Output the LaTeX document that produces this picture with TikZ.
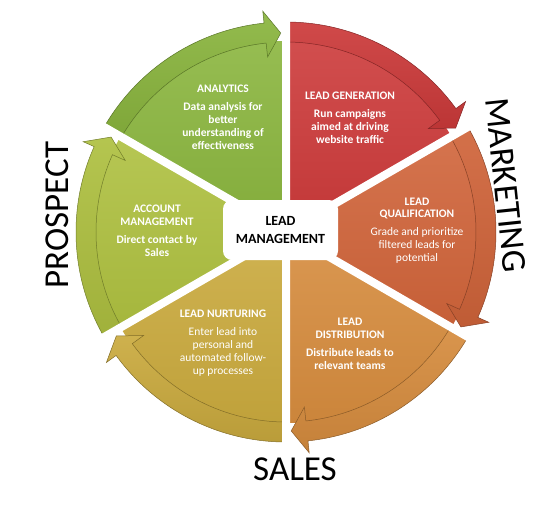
\documentclass[tikz,border=0pt]{standalone}
\usepackage{fontspec}
\setmainfont{Carlito}
\definecolor{genred}{HTML}{CC3A3A}
\definecolor{qualorange}{HTML}{D0643A}
\definecolor{distorange}{HTML}{D68C3E}
\definecolor{nurtyellow}{HTML}{CAAA3E}
\definecolor{acctgreen}{HTML}{AEC040}
\definecolor{analgreen}{HTML}{8AB53E}
\begin{document}
\begin{tikzpicture}[x=1pt, y=1pt,
        seg/.style={top color=#1!90!white, bottom color=#1!95!black},
        band/.style={top color=#1!92!white, bottom color=#1!92!black, draw=#1!65!black, line width=0.5pt},
        gap/.style={white, line width=8pt},
        txt/.style={white, align=center, inner sep=0pt, font=\fontsize{11.5}{12.9}\selectfont\bfseries},
        big/.style={inner sep=0pt, font=\fontsize{35}{40}\selectfont}
    ]
        \useasboundingbox (-286,-275) rectangle (273,232);

        % Wedges
        \path[seg=genred] (0,0) -- (90:191pt) arc[start angle=90, end angle=30, radius=191pt] -- cycle;
        \path[seg=qualorange] (0,0) -- (30:191pt) arc[start angle=30, end angle=-30, radius=191pt] -- cycle;
        \path[seg=distorange] (0,0) -- (-30:191pt) arc[start angle=-30, end angle=-90, radius=191pt] -- cycle;
        \path[seg=nurtyellow] (0,0) -- (-90:191pt) arc[start angle=-90, end angle=-150, radius=191pt] -- cycle;
        \path[seg=acctgreen] (0,0) -- (210:191pt) arc[start angle=210, end angle=150, radius=191pt] -- cycle;
        \path[seg=analgreen] (0,0) -- (150:191pt) arc[start angle=150, end angle=90, radius=191pt] -- cycle;

        % Arrow bands
        \path[band=genred] (90:210pt) arc[start angle=90, end angle=36, radius=210pt] -- (36:222pt) -- (31.5:199pt) -- (36:176pt) -- (36:190pt) arc[start angle=36, end angle=90, radius=190pt] -- cycle;
        \path[band=qualorange] (30:210pt) arc[start angle=30, end angle=-24, radius=210pt] -- (-24:222pt) -- (-28.5:199pt) -- (-24:176pt) -- (-24:190pt) arc[start angle=-24, end angle=30, radius=190pt] -- cycle;
        \path[band=distorange] (-30:210pt) arc[start angle=-30, end angle=-84, radius=210pt] -- (-84:222pt) -- (-88.5:199pt) -- (-84:176pt) -- (-84:190pt) arc[start angle=-84, end angle=-30, radius=190pt] -- cycle;
        \path[band=nurtyellow] (-90:210pt) arc[start angle=-90, end angle=-144, radius=210pt] -- (-144:222pt) -- (-148.5:199pt) -- (-144:176pt) -- (-144:190pt) arc[start angle=-144, end angle=-90, radius=190pt] -- cycle;
        \path[band=acctgreen] (210:210pt) arc[start angle=210, end angle=156, radius=210pt] -- (156:222pt) -- (151.5:199pt) -- (156:176pt) -- (156:190pt) arc[start angle=156, end angle=210, radius=190pt] -- cycle;
        \path[band=analgreen] (150:210pt) arc[start angle=150, end angle=96, radius=210pt] -- (96:222pt) -- (91.5:199pt) -- (96:176pt) -- (96:190pt) arc[start angle=96, end angle=150, radius=190pt] -- cycle;

        % Gaps
        \draw[gap] (90:235pt) -- (-90:235pt) (30:235pt) -- (210:235pt) (150:235pt) -- (-30:235pt);

        % Centre
        \node[fill=white, rounded corners=9pt, minimum width=115pt, minimum height=60pt, align=center,
              font=\fontsize{14}{17.5}\selectfont\bfseries] (leadmgmt) at (-5.5,2) {LEAD\\MANAGEMENT};

        % Stages
        \node[txt] (generation) at (64,114) {LEAD GENERATION\\[5pt]Run campaigns\\aimed at driving\\website traffic};
        \node[txt] (qualification) at (131,1.5) {LEAD\\QUALIFICATION\\[5pt]\mdseries Grade and prioritize\\\mdseries filtered leads for\\\mdseries potential};
        \node[txt] (distribution) at (64,-111.5) {LEAD\\DISTRIBUTION\\[5pt]Distribute leads to\\relevant teams};
        \node[txt] (nurturing) at (-63,-111) {LEAD NURTURING\\[5pt]\mdseries Enter lead into\\\mdseries personal and\\\mdseries automated follow-\\\mdseries up processes};
        \node[txt] (account) at (-129,1.5) {ACCOUNT\\MANAGEMENT\\[5pt]Direct contact by\\Sales};
        \node[txt] (analytics) at (-63,114.5) {ANALYTICS\\[5pt]Data analysis for\\better\\understanding of\\effectiveness};

        % Phases
        \node[big, rotate=90] (prospect) at (-229,17) {PROSPECT};
        \node[big, rotate=-84] (marketing) at (220,47) {MARKETING};
        \node[big] (sales) at (9,-237) {SALES};
    \end{tikzpicture}
\end{document}
